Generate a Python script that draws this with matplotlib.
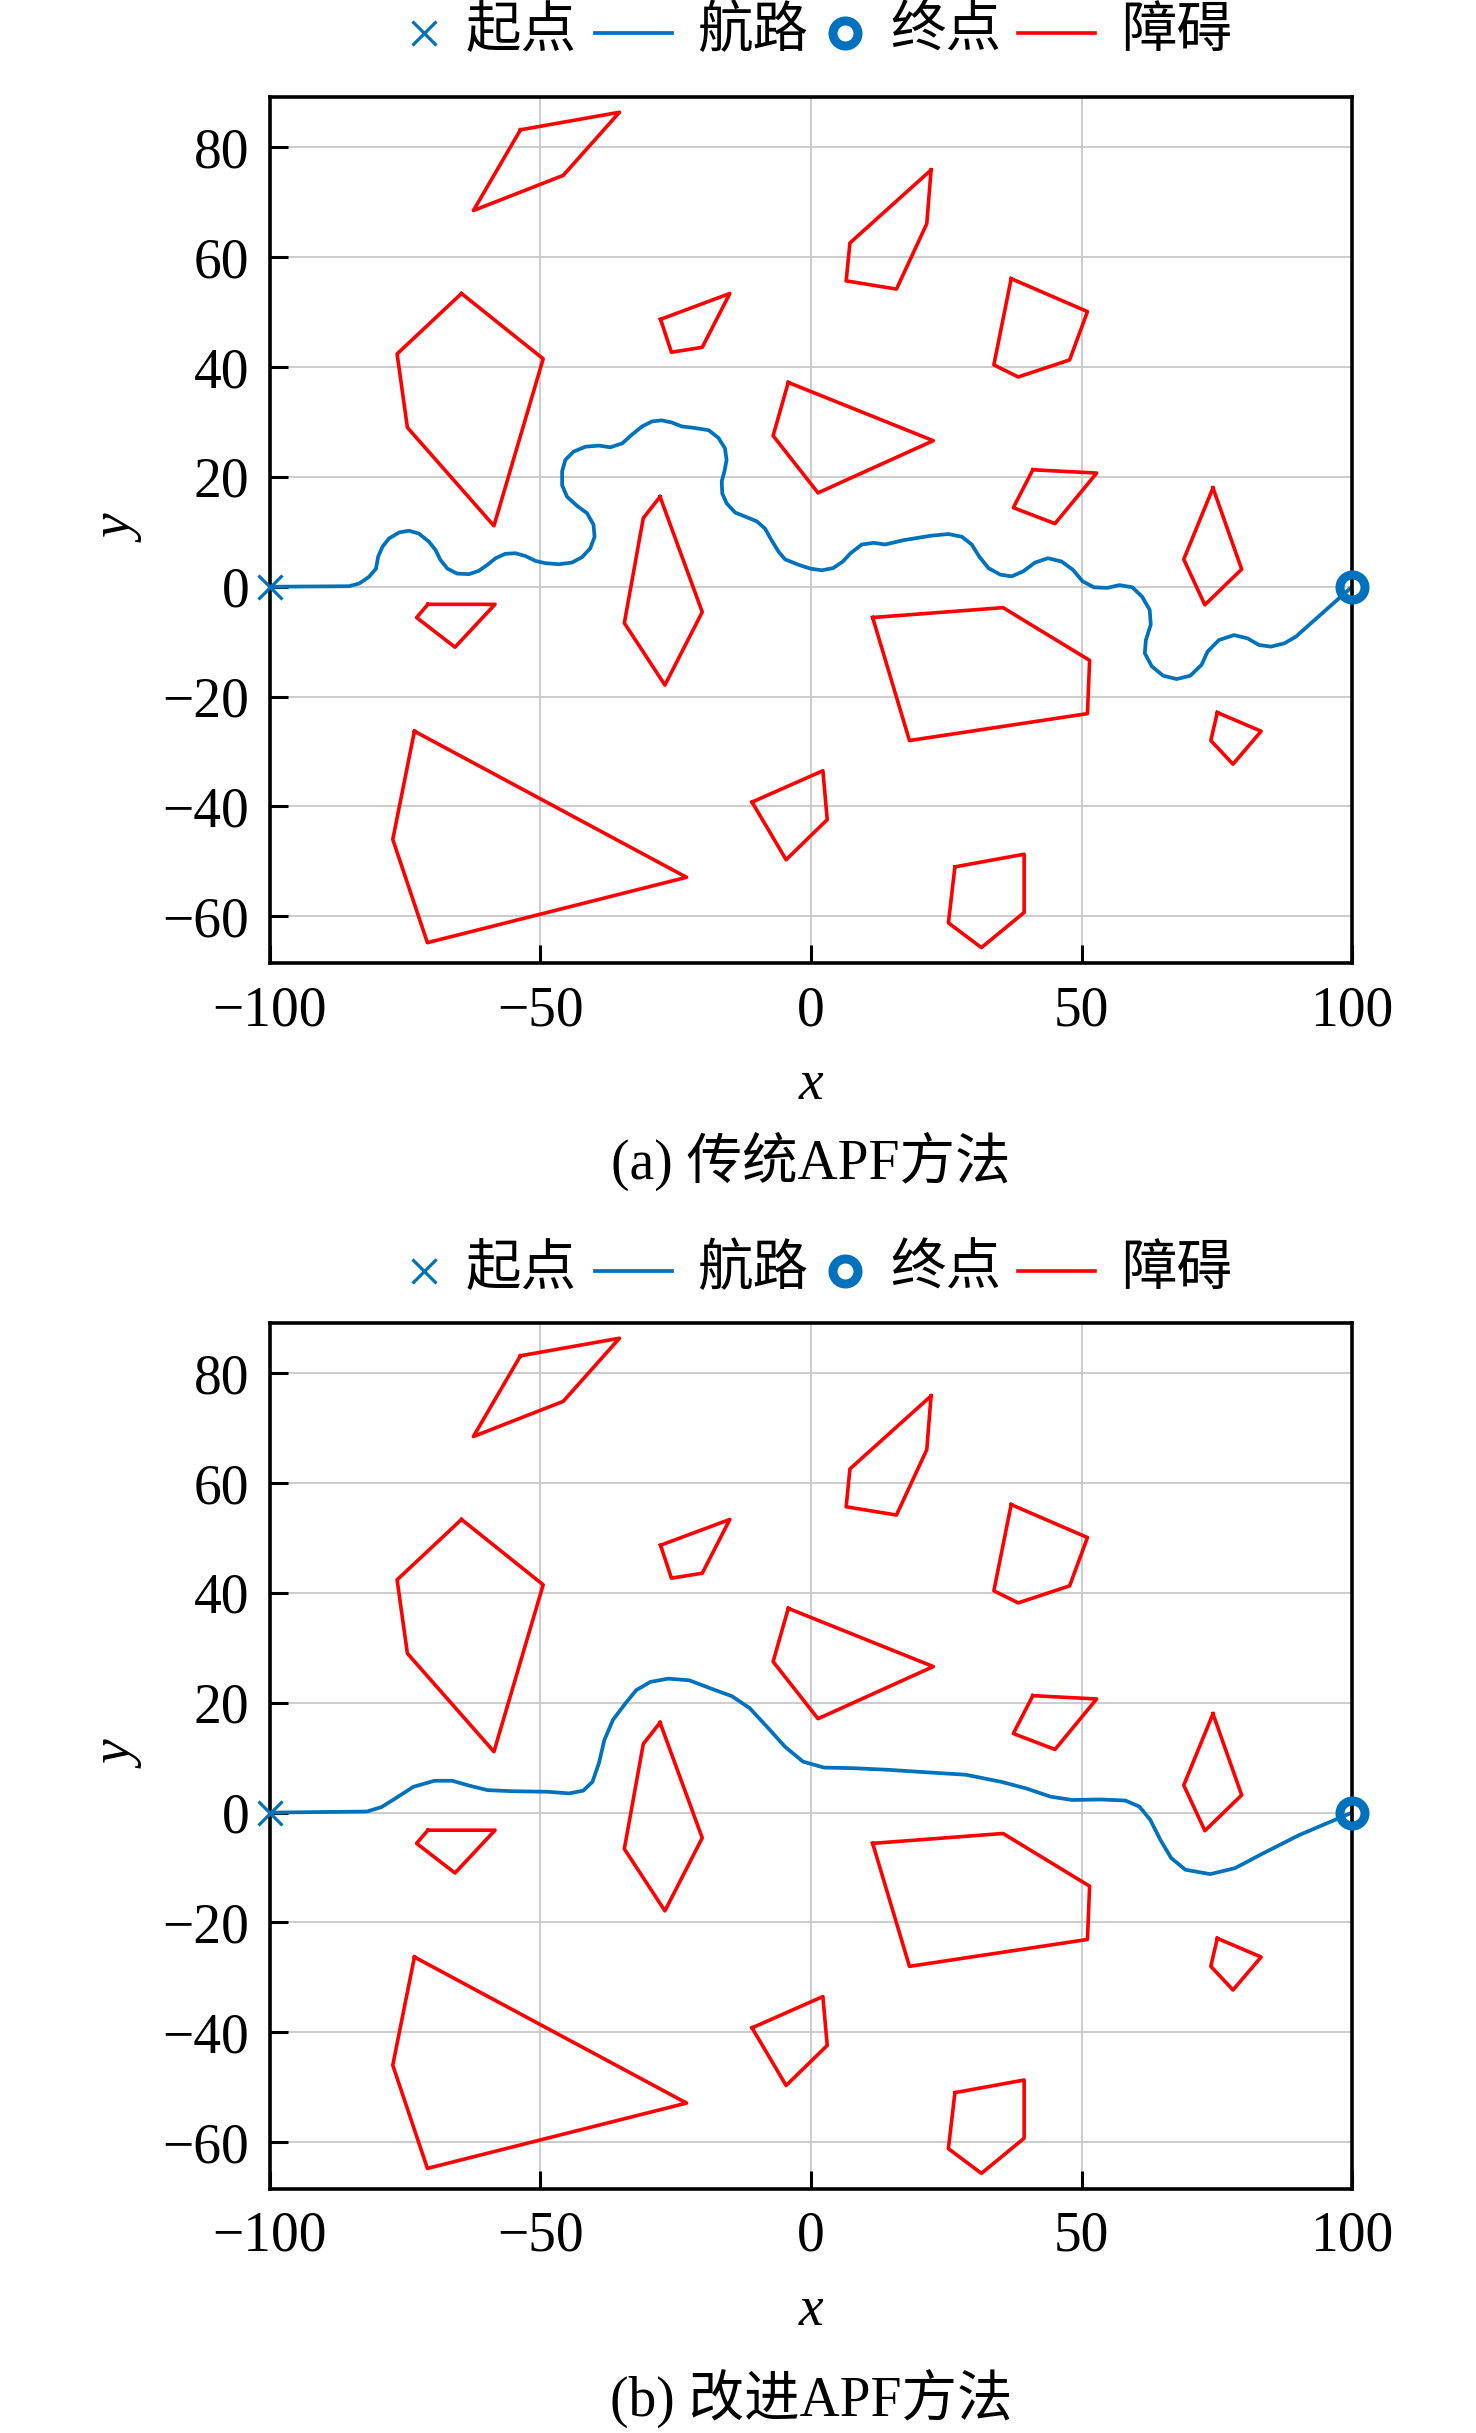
import numpy as np
import matplotlib.pyplot as plt
from matplotlib.lines import Line2D

# obstacle polygons (same map for both panels), vertices in order
obstacle_x = [
    [-53.7, -35.4, -45.8, -62.4],
    [-64.6, -49.5, -58.6, -74.6, -76.5],
    [-27.8, -15.0, -20.1, -25.8],
    [-4.2, 22.6, 1.3, -7.0],
    [22.2, 21.4, 15.8, 6.5, 7.2],
    [37.0, 51.1, 47.8, 38.3, 33.8],
    [41.0, 52.8, 45.1, 37.4],
    [74.3, 79.6, 72.8, 68.9],
    [11.4, 35.5, 51.5, 51.1, 18.2],
    [75.1, 83.2, 78.0, 73.9],
    [26.6, 39.4, 39.4, 31.5, 25.4],
    [-10.9, 2.2, 3.0, -4.6],
    [-70.8, -58.4, -65.8, -72.9],
    [-27.9, -20.1, -27.0, -34.5, -31.0],
    [-73.3, -23.0, -70.9, -77.3],
]
obstacle_y = [
    [83.2, 86.4, 74.9, 68.5],
    [53.4, 41.5, 11.1, 29.0, 42.4],
    [48.7, 53.4, 43.6, 42.7],
    [37.2, 26.6, 17.1, 27.5],
    [75.9, 66.1, 54.2, 55.7, 62.6],
    [56.1, 50.1, 41.3, 38.2, 40.4],
    [21.3, 20.7, 11.5, 14.4],
    [18.0, 3.2, -3.3, 5.0],
    [-5.6, -3.8, -13.4, -23.1, -28.0],
    [-22.9, -26.3, -32.3, -28.0],
    [-51.0, -48.7, -59.3, -65.7, -61.2],
    [-39.2, -33.5, -42.4, -49.7],
    [-3.2, -3.2, -11.0, -5.6],
    [16.4, -4.6, -17.9, -6.6, 12.5],
    [-26.3, -52.9, -64.8, -46.0],
]

start_pt = (-100, 0)
goal_pt = (100, 0)

# (a) traditional APF path
path_a_x = [-100, -85.4, -83.5, -81.7, -80.4, -80.0, -79.2, -78.0, -76.1, -74.3,
            -72.5, -70.6, -69.4, -68.5, -67.2, -65.4, -63.2, -61.4, -59.8, -58.3,
            -56.5, -54.6, -52.8, -50.9, -49.1, -46.6, -44.2, -42.3, -40.8, -40.0,
            -40.2, -41.4, -43.2, -45.1, -46.0, -46.0, -45.4, -43.9, -41.7, -39.2,
            -37.1, -34.9, -33.1, -31.2, -29.4, -27.6, -25.7, -23.9, -21.4, -18.9,
            -17.1, -15.9, -15.6, -16.0, -16.5, -16.4, -15.6, -14.0, -12.2, -10.0,
            -8.5, -7.3, -6.0, -4.8, -2.3, -0.1, 2.0, 4.1, 5.9, 7.3,
            9.4, 11.6, 13.7, 17.2, 22.2, 25.4, 27.9, 29.7, 31.1, 32.8,
            35.0, 37.1, 39.2, 41.4, 43.8, 46.3, 48.4, 50.2, 52.3, 54.8,
            57.0, 59.4, 61.2, 62.6, 62.8, 61.9, 61.7, 63.0, 65.1, 67.6,
            70.1, 72.2, 73.3, 75.4, 78.2, 80.7, 82.8, 85.0, 87.5, 89.6,
            100]
path_a_y = [0, 0.1, 0.6, 1.8, 3.3, 5.5, 7.3, 8.8, 9.9, 10.2,
            9.7, 8.2, 6.7, 4.9, 3.3, 2.4, 2.3, 2.9, 4.0, 5.2,
            6.0, 6.1, 5.6, 4.7, 4.3, 4.1, 4.4, 5.4, 7.0, 9.1,
            11.3, 13.4, 14.7, 16.4, 18.5, 21.0, 23.1, 24.6, 25.5, 25.7,
            25.4, 26.1, 27.7, 29.2, 30.1, 30.3, 29.9, 29.2, 28.9, 28.5,
            27.1, 25.2, 23.1, 21.0, 19.2, 17.0, 15.2, 13.5, 12.8, 11.9,
            10.6, 8.5, 6.4, 5.0, 4.0, 3.3, 3.0, 3.4, 4.6, 6.1,
            7.7, 8.0, 7.7, 8.5, 9.3, 9.6, 9.1, 7.7, 5.5, 3.4,
            2.2, 1.9, 2.8, 4.4, 5.2, 4.6, 3.1, 1.0, -0.1, -0.2,
            0.3, -0.1, -1.8, -4.2, -6.9, -9.7, -12.1, -14.5, -16.2, -16.8,
            -16.2, -14.2, -11.8, -9.7, -8.8, -9.4, -10.6, -10.9, -10.3, -9.1,
            0]

# (b) improved APF path
path_b_x = [-100, -82.1, -79.4, -76.8, -73.5, -69.6, -66.3, -63.1, -59.8, -55.2,
            -48.7, -44.7, -42.1, -40.4, -39.2, -38.2, -36.6, -34.3, -32.3, -29.7,
            -26.4, -22.5, -18.5, -14.6, -11.3, -8.1, -4.8, -1.5, 2.4, 7.7,
            14.2, 22.1, 28.6, 35.2, 39.8, 44.3, 48.3, 53.5, 58.1, 60.7,
            62.7, 64.6, 66.6, 69.2, 73.8, 78.4, 83.6, 90.2, 100]
path_b_y = [0, 0.2, 1.0, 2.6, 4.7, 5.8, 5.8, 4.9, 4.1, 3.9,
            3.8, 3.5, 4.0, 5.6, 9.0, 13.2, 16.9, 19.9, 22.3, 23.8,
            24.4, 24.1, 22.6, 21.2, 19.0, 15.6, 12.0, 9.3, 8.2, 8.1,
            7.8, 7.3, 6.9, 5.6, 4.4, 2.9, 2.3, 2.4, 2.2, 1.1,
            -1.3, -5.0, -8.3, -10.4, -11.2, -10.1, -7.4, -4.1, 0]

panels = [
    (path_a_x, path_a_y, '(a) 传统APF方法'),
    (path_b_x, path_b_y, '(b) 改进APF方法'),
]
legend_labels = ['起点', '航路', '终点', '障碍']

blue = '#0072BD'
red = '#FF0000'

plt.rcParams['font.family'] = ['Liberation Serif', 'Noto Sans CJK SC']

W, H = 1476, 2433
fig = plt.figure(figsize=(W / 100, H / 100), dpi=100)
boxes = [[0.1829, 0.6042, 0.7331, 0.3561], [0.1829, 0.1004, 0.7331, 0.3560]]
legend_py = [33, 1271]       # legend row centre, pixels from top
caption_y = [0.5225, 0.0144]

for i, (px, py, caption) in enumerate(panels):
    ax = fig.add_axes(boxes[i])
    for ox, oy in zip(obstacle_x, obstacle_y):
        ax.plot(ox + [ox[0]], oy + [oy[0]], color=red, lw=2.6)
    ax.plot(px, py, color=blue, lw=2.7)
    ax.plot(*start_pt, marker='x', ms=17, mew=2.3, color=blue, ls='none', clip_on=False, zorder=5)
    ax.plot(*goal_pt, marker='o', ms=18, mew=6.5, mfc='none', mec=blue, ls='none', clip_on=False, zorder=5)

    ax.set_xlim(-100, 100)
    ax.set_ylim(-68.5, 89.25)
    ax.set_xticks([-100, -50, 0, 50, 100])
    ax.set_yticks([-60, -40, -20, 0, 20, 40, 60, 80])
    ax.grid(True, color='#c8c8c8', lw=1.3)
    ax.set_axisbelow(True)
    ax.tick_params(direction='in', length=13, width=2.2, top=False, right=False, labelsize=40)
    ax.tick_params(axis='x', pad=16)
    ax.tick_params(axis='y', pad=15)
    for sp in ax.spines.values():
        sp.set_linewidth(2.6)
    ax.set_xlabel('x', fontsize=40, fontstyle='italic', labelpad=16)
    ax.set_ylabel('y', fontsize=40, fontstyle='italic', labelpad=11)

    # legend row above each panel, laid out like the original (narrow marker slots)
    yc = 1 - legend_py[i] / H
    fig.add_artist(Line2D([424 / W], [yc], marker='x', ms=17, mew=2.3, color=blue,
                          ls='none', transform=fig.transFigure))
    fig.add_artist(Line2D([595 / W, 672 / W], [yc, yc], color=blue, lw=2.7,
                          transform=fig.transFigure))
    fig.add_artist(Line2D([845 / W], [yc], marker='o', ms=18, mew=6.5, mfc='none', mec=blue,
                          ls='none', transform=fig.transFigure))
    fig.add_artist(Line2D([1018 / W, 1095 / W], [yc, yc], color=red, lw=2.6,
                          transform=fig.transFigure))
    for tx, lab in zip([466, 697, 890, 1121], legend_labels):
        fig.text(tx / W, yc, lab, ha='left', va='center', fontsize=40)

    fig.text(0.5495, caption_y[i], caption, ha='center', va='center', fontsize=40)

fig.savefig('out.png', dpi=100)
